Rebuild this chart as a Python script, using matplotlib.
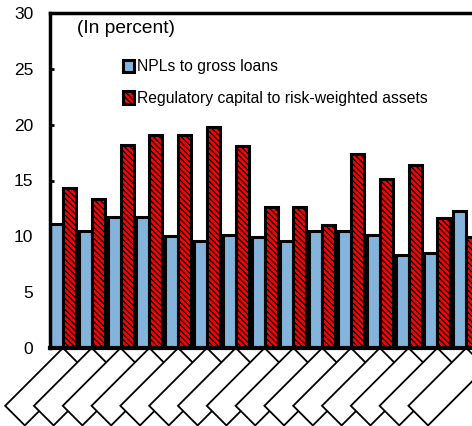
import matplotlib
matplotlib.use("Agg")
import matplotlib.pyplot as plt
import numpy as np

plt.rcParams["font.family"] = ["Liberation Sans", "DejaVu Sans"]
plt.rcParams["hatch.linewidth"] = 0.9

# values (in percent)
npl_ratio = [11.1, 10.45, 11.7, 11.7, 10.0, 9.55, 10.15, 9.9, 9.6, 10.45, 10.45, 10.1, 8.35, 8.55, 12.3]
capital_ratio = [14.3, 13.35, 18.2, 19.1, 19.1, 19.8, 18.1, 12.6, 12.6, 11.05, 17.4, 15.1, 16.4, 11.65, 9.95]
# the category labels render as empty boxes in the reference
category_labels = [" " * 16] * len(npl_ratio)
y_ticks = [0, 5, 10, 15, 20, 25, 30]

blue = "#84b4dc"
red = "#ff0000"

fig = plt.figure(figsize=(4.72, 4.26), dpi=100)
ax = fig.add_axes([50 / 472, 1 - 348 / 426, 422 / 472, 335 / 426])

x = np.arange(len(npl_ratio))
width = 0.45
ax.bar(x - width / 2, npl_ratio, width, color=blue, edgecolor="black",
       linewidth=2.2, label="NPLs to gross loans", zorder=2)
ax.bar(x + width / 2, capital_ratio, width, color=red, edgecolor="black",
       linewidth=2.2, hatch="\\" * 6, label="Regulatory capital to risk-weighted assets",
       zorder=2)

ax.set_xlim(-0.45, 14.2)
ax.set_ylim(0, 30)
ax.set_yticks(y_ticks)
ax.set_xticks(x)
ax.set_xticklabels(category_labels, rotation=45, ha="right", va="top",
                   rotation_mode="anchor", fontsize=11,
                   bbox=dict(boxstyle="square,pad=0.45", fc="white", ec="black", lw=1.3))
ax.tick_params(axis="x", length=0, pad=7)
ax.tick_params(axis="y", direction="in", length=3, width=2, pad=12, labelsize=12.5)

for side in ["left", "top"]:
    ax.spines[side].set_linewidth(2.5)
ax.spines["right"].set_visible(False)
ax.spines["bottom"].set_linewidth(3)

ax.text(0.064, 0.955, "(In percent)", transform=ax.transAxes, fontsize=13.8,
        ha="left", va="center")

ax.legend(loc="upper left", bbox_to_anchor=(0.174, 0.862), frameon=False,
          fontsize=11.3, handlelength=0.65, handleheight=0.85, handletextpad=0.2,
          labelspacing=1.05, borderpad=0, borderaxespad=0)

fig.savefig("out.png", dpi=100)
